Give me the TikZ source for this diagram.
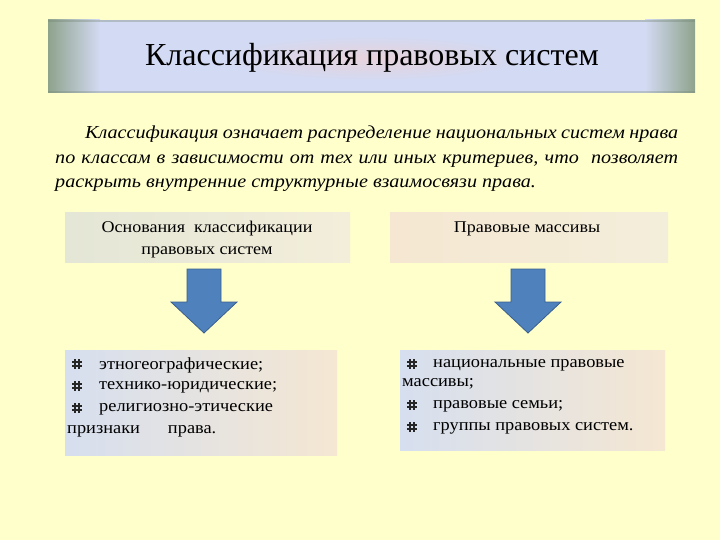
\documentclass[tikz,border=0pt]{standalone}
\usepackage{fontspec}
\setmainfont{LiberationSerif}[Extension=.ttf, UprightFont=*-Regular, BoldFont=*-Bold, ItalicFont=*-Italic, BoldItalicFont=*-BoldItalic, FakeStretch=1.1]
\newfontfamily\titlefont{LiberationSerif}[Extension=.ttf, UprightFont=*-Regular]
\newfontfamily\listfont{LiberationSerif}[Extension=.ttf, UprightFont=*-Regular, FakeStretch=1.08]
\definecolor{bgyellow}{HTML}{FFFFCC}
\definecolor{banlav}{HTML}{D3DAF3}
\definecolor{banedge}{HTML}{8EA38C}
\definecolor{banpink}{HTML}{EED2D6}
\definecolor{arrowblue}{HTML}{4F81BD}
\definecolor{arrowedge}{HTML}{3A5F8C}
\definecolor{boxblue}{HTML}{D6DFEF}
\definecolor{boxpeach}{HTML}{F5E7D2}
\definecolor{boxgrey}{HTML}{E4E6D6}
\definecolor{boxcream}{HTML}{F3EEDA}
\tikzset{
  headbox/.style={inner sep=0pt, align=center, font=\fontsize{16.4}{22}\selectfont},
  listtext/.style={anchor=west, inner sep=0pt, font=\listfont\fontsize{17}{20}\selectfont},
  blockarrow/.style={fill=arrowblue, draw=arrowedge, line width=0.8pt, line join=miter},
  pics/hashbul/.style={code={
    \draw[line width=2.3pt, black!85] (-2.1,-4.6) -- (-2.1,4.6) (2.1,-4.6) -- (2.1,4.6)
      (-4.6,-2.1) -- (4.6,-2.1) (-4.6,2.1) -- (4.6,2.1);
  }}
}
\begin{document}
\begin{tikzpicture}[x=1pt,y=-1pt]
\useasboundingbox (0,0) rectangle (720,540);
\fill[bgyellow] (0,0) rectangle (720,540);
% title banner
\fill[banlav] (48,20) rectangle (695,93);
\shade[left color=banedge, right color=banlav] (48,20) rectangle (100,93);
\shade[left color=banlav, right color=banedge] (645,20) rectangle (695,93);
\shade[inner color=banpink, outer color=banlav, opacity=0.8] (372,58) ellipse (150 and 22);
\fill[banedge!80!black, opacity=0.35] (48,20) rectangle (695,22);
\fill[banedge!80!black, opacity=0.3] (48,91) rectangle (695,93);
\node (title) at (372,58) {\titlefont\fontsize{32}{36}\selectfont Классификация правовых систем};
% paragraph
\node[anchor=north west, inner sep=0pt, text width=623pt, align=justify,
      font=\fontsize{18.3}{24.5}\selectfont\itshape] (para) at (55,126)
 {\hspace*{30pt}Классификация означает распределение национальных систем нрава\linebreak
 по классам в зависимости от тех или иных критериев, что\ \ позволяет\linebreak
 раскрыть внутренние структурные взаимосвязи права.};
% header boxes
\shade[left color=boxgrey, right color=boxcream] (65,213) rectangle (350,262);
\node[headbox] (h1) at (207,240) {Основания\ \ классификации\\ правовых систем};
\shade[left color=boxpeach, right color=boxcream] (390,213) rectangle (668,262);
\node[headbox] (h2) at (527,229) {Правовые массивы};
% arrows
\draw[blockarrow] (187,269) -- (221,269) -- (221,302) -- (237,302) -- (204,333)
   -- (171,302) -- (187,302) -- cycle;
\draw[blockarrow] (511,269) -- (545,269) -- (545,302) -- (561,302) -- (528,333)
   -- (495,302) -- (511,302) -- cycle;
% list boxes
\shade[left color=boxblue, right color=boxpeach] (65,350) rectangle (337,455);
\shade[left color=boxblue, right color=boxpeach] (400,350) rectangle (665,450);
\node[listtext] (a1) at (99,365) {этногеографические;};
\node[listtext] (a2) at (99,387) {технико-юридические;};
\node[listtext] (a3) at (99,409) {религиозно-этические};
\node[listtext] (a4) at (67,431) {признаки\hspace{28pt}права.};
\node[listtext] (b1) at (433,365) {национальные правовые};
\node[listtext] (b2) at (402,384) {массивы;};
\node[listtext] (b3) at (433,406) {правовые семьи;};
\node[listtext] (b4) at (433,428) {группы правовых систем.};
\pic at (77,364) {hashbul};
\pic at (77,386) {hashbul};
\pic at (77,408) {hashbul};
\pic at (412,364) {hashbul};
\pic at (412,405) {hashbul};
\pic at (412,427) {hashbul};
\end{tikzpicture}
\end{document}
